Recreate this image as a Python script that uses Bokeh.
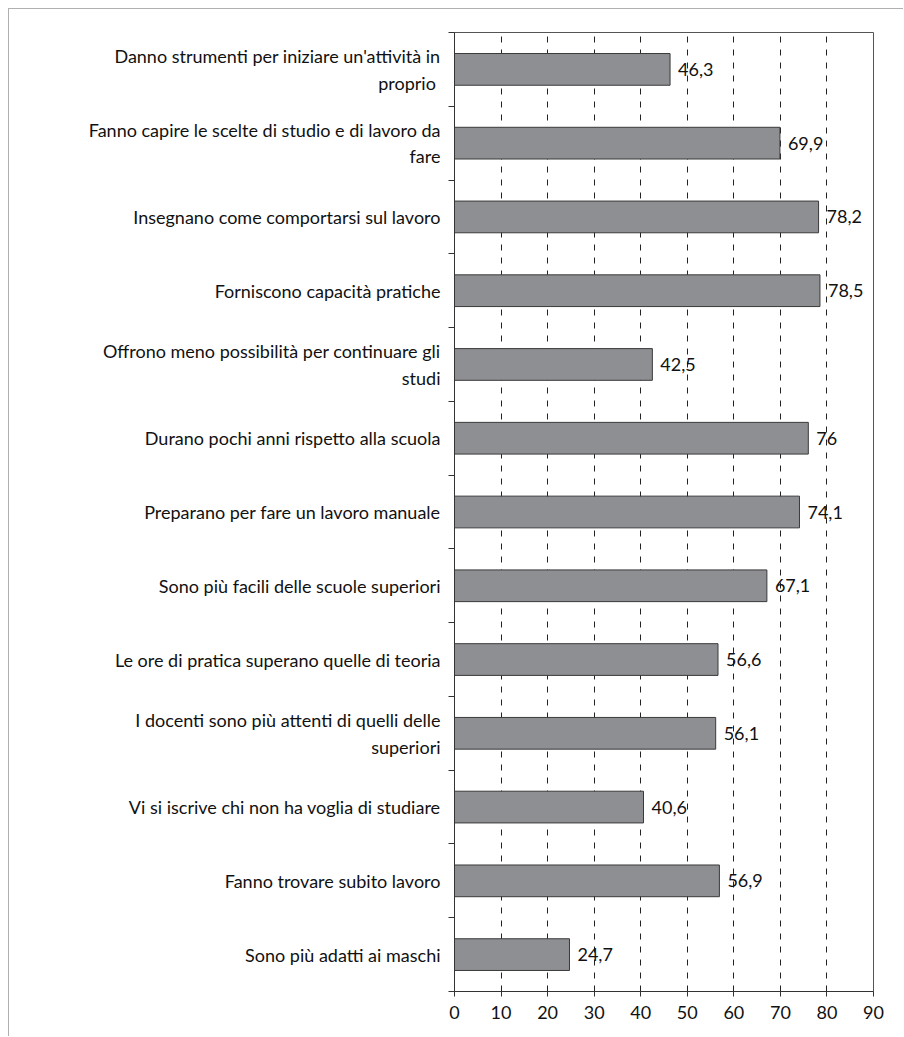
from bokeh.plotting import figure
from bokeh.models import FixedTicker, ColumnDataSource, LabelSet
from bokeh.core.properties import value
from bokeh.embed import file_html
from bokeh.resources import INLINE

categories = [
    "Danno strumenti per iniziare un'attività in\nproprio ",
    "Fanno capire le scelte di studio e di lavoro da\nfare",
    "Insegnano come comportarsi sul lavoro",
    "Forniscono capacità pratiche",
    "Offrono meno possibilità per continuare gli\nstudi",
    "Durano pochi anni rispetto alla scuola",
    "Preparano per fare un lavoro manuale",
    "Sono più facili delle scuole superiori",
    "Le ore di pratica superano quelle di teoria",
    "I docenti sono più attenti di quelli delle\nsuperiori",
    "Vi si iscrive chi non ha voglia di studiare",
    "Fanno trovare subito lavoro",
    "Sono più adatti ai maschi",
]
values = [46.3, 69.9, 78.2, 78.5, 42.5, 76.0, 74.1, 67.1, 56.6, 56.1, 40.6, 56.9, 24.7]
value_labels = ["46,3", "69,9", "78,2", "78,5", "42,5", "76", "74,1", "67,1", "56,6", "56,1", "40,6", "56,9", "24,7"]
x_ticks = [0, 10, 20, 30, 40, 50, 60, 70, 80, 90]
grid_ticks = [10, 20, 30, 40, 50, 60, 70, 80]

FONT = "Lato"
FS = "18px"
n = len(categories)
ypos = [n - i - 0.5 for i in range(n)]

src = ColumnDataSource(dict(y=ypos, v=values, lab=value_labels))

p = figure(width=895, height=1028, x_range=(0, 90), y_range=(0, n),
           output_backend="svg", toolbar_location=None,
           min_border_left=445, min_border_right=31, min_border_top=23, min_border_bottom=46)
p.styles = {"margin-left": "8px", "margin-top": "8px",
            "border-left": "1px solid #b0b0b0", "border-top": "1px solid #b0b0b0"}

p.hbar(y="y", right="v", left=0, height=0.43, source=src,
       fill_color="#8e8f93", line_color="#3a3a3a", line_width=1)

labels = LabelSet(x="v", y="y", text="lab", source=src, x_offset=8,
                  text_align="left", text_baseline="middle",
                  text_font=value(FONT), text_font_size=value(FS), text_color="#111111")
p.add_layout(labels)

# x axis
p.xaxis.ticker = FixedTicker(ticks=x_ticks)
p.xaxis.major_label_text_font = FONT
p.xaxis.major_label_text_font_size = FS
p.xaxis.major_label_text_color = "#111111"
p.xaxis.major_tick_out = 5
p.xaxis.major_tick_in = 0
p.xaxis.minor_tick_out = 0
p.xaxis.minor_tick_in = 0
p.xaxis.axis_line_color = "#333333"
p.xaxis.major_tick_line_color = "#333333"
p.xaxis.major_label_standoff = 9

# y axis: labels at centers, ticks at boundaries (minor)
p.yaxis.ticker = FixedTicker(ticks=ypos, minor_ticks=list(range(n + 1)))
p.yaxis.major_label_overrides = {y: c for y, c in zip(ypos, categories)}
p.yaxis.major_tick_out = 0
p.yaxis.major_tick_in = 0
p.yaxis.minor_tick_out = 6
p.yaxis.minor_tick_in = 0
p.yaxis.minor_tick_line_color = "#333333"
p.yaxis.axis_line_color = "#333333"
p.yaxis.major_label_text_font = FONT
p.yaxis.major_label_text_font_size = FS
p.yaxis.major_label_text_color = "#111111"
p.yaxis.major_label_standoff = 8

# grid
p.ygrid.grid_line_color = None
p.xgrid.ticker = FixedTicker(ticks=grid_ticks)
p.xgrid.grid_line_color = "#222222"
p.xgrid.grid_line_dash = "6 7"
p.xgrid.grid_line_width = 1

p.outline_line_color = "#555555"
p.outline_line_width = 1

open("out.html", "w").write(file_html(p, INLINE))
